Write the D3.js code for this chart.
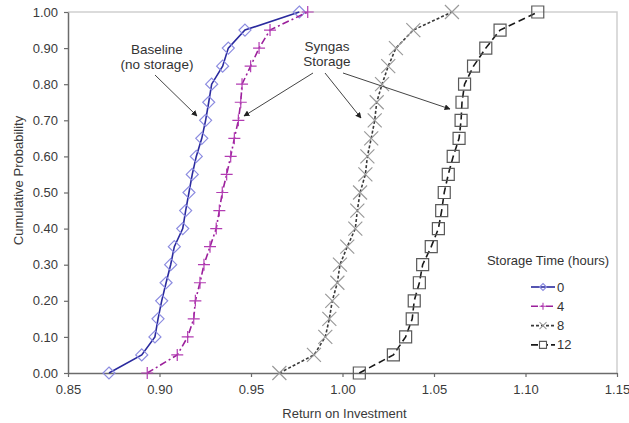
<!DOCTYPE html>
<html>
<head>
<meta charset="utf-8">
<script src="https://cdn.jsdelivr.net/npm/d3@7"></script>
<style>
  html, body { margin: 0; padding: 0; background: #fff; }
  svg { display: block; font-family: "Liberation Sans", Arial, sans-serif; }
</style>
</head>
<body>
<svg id="chart" width="629" height="423"></svg>
<script>
// Cumulative probability levels shared by every series
const probabilities = [0.00, 0.05, 0.10, 0.15, 0.20, 0.25, 0.30, 0.35, 0.40, 0.45, 0.50,
                       0.55, 0.60, 0.65, 0.70, 0.75, 0.80, 0.85, 0.90, 0.95, 1.00];

// Return on investment for each storage time (hours)
const roi0 = [0.8724, 0.8903, 0.8975, 0.8992, 0.9012, 0.9036, 0.9061, 0.9081, 0.9127, 0.9143, 0.9161,
              0.9179, 0.9201, 0.9231, 0.9252, 0.9269, 0.9285, 0.9345, 0.9376, 0.9467, 0.9764];
const roi4 = [0.8933, 0.9097, 0.9154, 0.9187, 0.9196, 0.9221, 0.9243, 0.9276, 0.9310, 0.9327, 0.9343,
              0.9367, 0.9389, 0.9409, 0.9431, 0.9444, 0.9451, 0.9498, 0.9544, 0.9604, 0.9810];
const roi8 = [0.9655, 0.9844, 0.9906, 0.9928, 0.9944, 0.9972, 0.9986, 1.0026, 1.0070, 1.0081, 1.0096,
              1.0125, 1.0136, 1.0157, 1.0176, 1.0187, 1.0216, 1.0250, 1.0292, 1.0387, 1.0598];
const roi12 = [1.0092, 1.0278, 1.0345, 1.0381, 1.0392, 1.0420, 1.0438, 1.0485, 1.0524, 1.0542, 1.0556,
               1.0578, 1.0605, 1.0637, 1.0648, 1.0653, 1.0667, 1.0716, 1.0783, 1.0861, 1.1067];

const seriesNames = ["0", "4", "8", "12"];
const xTicks = [0.85, 0.90, 0.95, 1.00, 1.05, 1.10, 1.15];
const yTicks = [0, 0.1, 0.2, 0.3, 0.4, 0.5, 0.6, 0.7, 0.8, 0.9, 1.0];

const svg = d3.select("#chart");
const margin = { top: 12, right: 12, bottom: 50, left: 68 };
const W = 629, H = 423;
const x = d3.scaleLinear().domain([0.85, 1.15]).range([margin.left, W - margin.right]);
const y = d3.scaleLinear().domain([0, 1]).range([H - margin.bottom, margin.top]);

// Visual styling per series
const styles = [
  { line: "#2a2a9e", dash: null,         marker: "diamond", mColor: "#8c8ce0" },
  { line: "#9b1f9b", dash: "7,3,2,3",    marker: "plus",    mColor: "#b23cb2" },
  { line: "#3a3a3a", dash: "3,2",        marker: "cross",   mColor: "#9a9a9a" },
  { line: "#1a1a1a", dash: "7,4",        marker: "square",  mColor: "#5a5a5a" }
];
const seriesValues = [roi0, roi4, roi8, roi12];

function markerPath(kind, r) {
  switch (kind) {
    case "diamond": return `M0,${-r}L${r},0L0,${r}L${-r},0Z`;
    case "square":  return `M${-r},${-r}H${r}V${r}H${-r}Z`;
    case "plus":    return `M${-r},0H${r}M0,${-r}V${r}`;
    case "cross":   return `M${-r},${-r}L${r},${r}M${-r},${r}L${r},${-r}`;
  }
}

// Plot frame: light top and right borders
svg.append("path")
  .attr("d", `M${x(0.85)},${y(1)}H${x(1.15)}V${y(0)}`)
  .attr("fill", "none").attr("stroke", "#cfcfcf").attr("stroke-width", 1.5);

// Axes
const xAxis = svg.append("g")
  .attr("transform", `translate(0,${y(0)})`)
  .call(d3.axisBottom(x).tickValues(xTicks).tickFormat(d3.format(".2f")).tickSizeInner(4).tickSizeOuter(0));
const yAxis = svg.append("g")
  .attr("transform", `translate(${x(0.85)},0)`)
  .call(d3.axisLeft(y).tickValues(yTicks).tickFormat(d3.format(".2f")).tickSizeInner(4).tickSizeOuter(0));
[xAxis, yAxis].forEach(g => {
  g.select(".domain").attr("stroke", "#6b6b6b").attr("stroke-width", 1.5);
  g.selectAll(".tick line").attr("stroke", "#6b6b6b").attr("stroke-width", 1.2);
  g.selectAll(".tick text").attr("fill", "#3a3a3a")
    .style("font-size", "13px").style("font-family", "'Liberation Sans', Arial, sans-serif");
});
xAxis.selectAll(".tick text").attr("dy", "1.15em").attr("y", 6);
yAxis.selectAll(".tick text").attr("x", -10);

// Axis titles
svg.append("text")
  .attr("x", (x(0.85) + x(1.15)) / 2 + 2).attr("y", 418)
  .attr("text-anchor", "middle").attr("fill", "#3a3a3a")
  .style("font-size", "13px").text("Return on Investment");
svg.append("text")
  .attr("transform", `translate(23,${(y(0) + y(1)) / 2 - 12}) rotate(-90)`)
  .attr("text-anchor", "middle").attr("fill", "#3a3a3a")
  .style("font-size", "13px").text("Cumulative Probability");

// Series lines and markers
const line = d3.line().x(d => x(d[0])).y(d => y(d[1]));
seriesValues.forEach((vals, i) => {
  const st = styles[i];
  const pts = vals.map((v, j) => [v, probabilities[j]]);
  const g = svg.append("g").attr("class", "series s" + seriesNames[i]);
  g.append("path").datum(pts)
    .attr("d", line).attr("fill", "none")
    .attr("stroke", st.line).attr("stroke-width", 1.6)
    .attr("stroke-dasharray", st.dash);
  const size = st.marker === "cross" ? 7 : 6;
  g.selectAll("path.m").data(pts).join("path")
    .attr("class", "m")
    .attr("transform", d => `translate(${x(d[0])},${y(d[1])})`)
    .attr("d", markerPath(st.marker, size))
    .attr("fill", "none").attr("stroke", st.mColor).attr("stroke-width", 1.2);
});

// Annotations
const defs = svg.append("defs");
defs.append("marker").attr("id", "arrow")
  .attr("viewBox", "0 0 10 10").attr("refX", 9).attr("refY", 5)
  .attr("markerWidth", 6).attr("markerHeight", 6).attr("orient", "auto")
  .append("path").attr("d", "M0,0L10,5L0,10Z").attr("fill", "#222");

const notes = svg.append("g").attr("fill", "#333").style("font-size", "13.5px");
notes.append("text").attr("x", 157).attr("y", 54).attr("text-anchor", "middle").text("Baseline");
notes.append("text").attr("x", 157).attr("y", 69).attr("text-anchor", "middle").text("(no storage)");
notes.append("text").attr("x", 327).attr("y", 51).attr("text-anchor", "middle").text("Syngas");
notes.append("text").attr("x", 327).attr("y", 66).attr("text-anchor", "middle").text("Storage");

const arrows = [
  [155, 75, 197, 116],
  [313, 73, 244, 116],
  [325, 73, 361, 118],
  [343, 73, 450, 109]
];
svg.append("g").selectAll("line").data(arrows).join("line")
  .attr("x1", d => d[0]).attr("y1", d => d[1]).attr("x2", d => d[2]).attr("y2", d => d[3])
  .attr("stroke", "#444").attr("stroke-width", 1)
  .attr("marker-end", "url(#arrow)");

// Legend
const legend = svg.append("g").attr("fill", "#333");
legend.append("text").attr("x", 548).attr("y", 265).attr("text-anchor", "middle")
  .style("font-size", "13px").text("Storage Time (hours)");
seriesNames.forEach((name, i) => {
  const st = styles[i];
  const ly = 287 + i * 19.3;
  const row = legend.append("g").attr("transform", `translate(0,${ly})`);
  row.append("line").attr("x1", 531).attr("x2", 555).attr("y1", 0).attr("y2", 0)
    .attr("stroke", st.line).attr("stroke-width", 1.6)
    .attr("stroke-dasharray", st.dash ? (i === 1 ? "7,3,2,3" : i === 2 ? "3,2" : "7,3") : null);
  row.append("path").attr("transform", "translate(543,0)")
    .attr("d", markerPath(st.marker, 3.5))
    .attr("fill", st.marker === "square" ? "#fff" : "none")
    .attr("stroke", st.mColor).attr("stroke-width", 1.1);
  row.append("text").attr("x", 557).attr("y", 4.5).style("font-size", "13px").text(name);
});
</script>
</body>
</html>
